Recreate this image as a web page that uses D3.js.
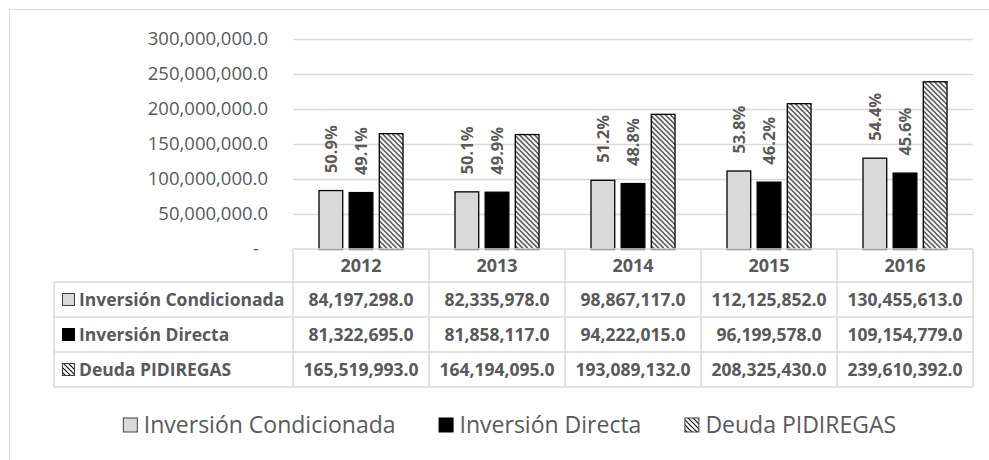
<!DOCTYPE html>
<html>
<head>
<meta charset="utf-8">
<script src="https://cdn.jsdelivr.net/npm/d3@7/dist/d3.min.js"></script>
<style>
  body { margin: 0; background: #fff; }
  text { font-family: "Open Sans", sans-serif; fill: #595959; }
</style>
</head>
<body>
<script>
var years = ["2012", "2013", "2014", "2015", "2016"];
var seriesNames = ["Inversión Condicionada", "Inversión Directa", "Deuda PIDIREGAS"];
var condicionada = [84197298.0, 82335978.0, 98867117.0, 112125852.0, 130455613.0];
var directa = [81322695.0, 81858117.0, 94222015.0, 96199578.0, 109154779.0];
var pidiregas = [165519993.0, 164194095.0, 193089132.0, 208325430.0, 239610392.0];
var pctCondicionada = ["50.9%", "50.1%", "51.2%", "53.8%", "54.4%"];
var pctDirecta = ["49.1%", "49.9%", "48.8%", "46.2%", "45.6%"];
var yMax = 300000000;

var width = 989, height = 460;
var values = [condicionada, directa, pidiregas];
var labels = [pctCondicionada, pctDirecta, null];
var fills = ["#d9d9d9", "#000", "url(#hatch)"];

var svg = d3.select("body").append("svg")
    .attr("width", width)
    .attr("height", height);

var defs = svg.append("defs");
var pat = defs.append("pattern")
    .attr("id", "hatch")
    .attr("patternUnits", "userSpaceOnUse")
    .attr("width", 5)
    .attr("height", 5);
pat.append("rect").attr("width", 5).attr("height", 5).attr("fill", "#fff");
pat.append("path")
    .attr("d", "M0,0L5,5M-1,4L1,6M4,-1L6,1")
    .attr("stroke", "#111")
    .attr("stroke-width", 1.2);

// chart frame
svg.append("rect")
    .attr("x", 9.5).attr("y", 9.5)
    .attr("width", 1001).attr("height", 470)
    .attr("fill", "none")
    .attr("stroke", "#d9d9d9");

var x0 = d3.scaleBand()
    .domain(years)
    .range([293, 973])
    .paddingInner(0.375)
    .paddingOuter(0.1875);

var x1 = d3.scaleBand()
    .domain(d3.range(3))
    .range([0, x0.bandwidth()])
    .paddingInner(0.18);

var y = d3.scaleLinear()
    .domain([0, yMax])
    .range([249, 39]);

var fmt = d3.format(",.1f");

// gridlines + tick labels
var ticks = y.ticks(6);
svg.append("g").selectAll("line")
    .data(ticks.filter((d) => d > 0))
  .enter().append("line")
    .attr("x1", 293).attr("x2", 973)
    .attr("y1", (d) => Math.round(y(d)) + 0.5)
    .attr("y2", (d) => Math.round(y(d)) + 0.5)
    .attr("stroke", "#d9d9d9")
    .attr("stroke-width", 1.5);

svg.append("g").selectAll("text")
    .data(ticks)
  .enter().append("text")
    .attr("x", (d) => d === 0 ? 259 : 268)
    .attr("y", (d) => y(d))
    .attr("dy", "0.35em")
    .attr("text-anchor", "end")
    .style("font-size", "18.5px")
    .text((d) => d === 0 ? "-" : fmt(d));

// bars
var groups = svg.append("g").selectAll("g")
    .data(years)
  .enter().append("g")
    .attr("transform", (d) => `translate(${x0(d)},0)`);

groups.selectAll("rect")
    .data((d, i) => values.map((v, s) => ({s: s, v: v[i]})))
  .enter().append("rect")
    .attr("x", (d) => x1(d.s) + 0.5)
    .attr("y", (d) => y(d.v) + 0.5)
    .attr("width", x1.bandwidth() - 1)
    .attr("height", (d) => y(0) - y(d.v))
    .attr("fill", (d) => fills[d.s])
    .attr("stroke", "#000")
    .attr("stroke-width", 1.3);

// rotated percentage labels
groups.selectAll("text.pct")
    .data((d, i) => [0, 1].map((s) => ({s: s, v: values[s][i], t: labels[s][i]})))
  .enter().append("text")
    .attr("class", "pct")
    .attr("transform", (d) => `translate(${x1(d.s) + x1.bandwidth() / 2},${y(d.v) - 17}) rotate(-90)`)
    .attr("dy", "0.35em")
    .style("font-size", "16.5px")
    .style("font-weight", "bold")
    .text((d) => d.t);

// data table
var tableLeft = 54;
var headTop = y(0), headH = 33, rowH = 35;
var colLeft = (d) => x0(d) - (x0.step() - x0.bandwidth()) / 2;
var tableRight = 973;
var grid = svg.append("g")
    .attr("stroke", "#d9d9d9")
    .attr("stroke-width", 1.5);

// horizontal lines
grid.append("line").attr("x1", 293).attr("x2", tableRight)
    .attr("y1", headTop).attr("y2", headTop);
d3.range(4).forEach((r) => {
  var yy = headTop + headH + r * rowH;
  grid.append("line").attr("x1", tableLeft).attr("x2", tableRight)
      .attr("y1", yy).attr("y2", yy);
});
// vertical lines
var tableBottom = headTop + headH + 3 * rowH;
grid.append("line").attr("x1", tableLeft).attr("x2", tableLeft)
    .attr("y1", headTop + headH).attr("y2", tableBottom);
years.forEach((yr) => {
  grid.append("line").attr("x1", colLeft(yr)).attr("x2", colLeft(yr))
      .attr("y1", headTop).attr("y2", tableBottom);
});
grid.append("line").attr("x1", tableRight).attr("x2", tableRight)
    .attr("y1", headTop).attr("y2", tableBottom);

// header
svg.append("g").selectAll("text")
    .data(years)
  .enter().append("text")
    .attr("x", (d) => x0(d) + x0.bandwidth() / 2)
    .attr("y", headTop + headH / 2)
    .attr("dy", "0.35em")
    .attr("text-anchor", "middle")
    .style("font-size", "18px")
    .style("font-weight", "bold")
    .text((d) => d);

function key(g, s, x, yc, size) {
  g.append("rect")
      .attr("x", x + 0.5).attr("y", yc - size / 2 + 0.5)
      .attr("width", size - 1).attr("height", size - 1)
      .attr("fill", fills[s])
      .attr("stroke", s === 1 ? "#000" : "#404040")
      .attr("stroke-width", 1);
}

var rows = svg.append("g");
seriesNames.forEach((name, s) => {
  var yc = headTop + headH + s * rowH + rowH / 2;
  key(rows, s, 62, yc, 13);
  rows.append("text")
      .attr("x", 79).attr("y", yc)
      .attr("dy", "0.35em")
      .style("font-size", "17.5px")
      .style("font-weight", "bold")
      .text(name);
  years.forEach((yr, i) => {
    rows.append("text")
        .attr("x", x0(yr) + x0.bandwidth() / 2)
        .attr("y", yc)
        .attr("dy", "0.35em")
        .attr("text-anchor", "middle")
        .style("font-size", "17.5px")
        .style("font-weight", "bold")
        .text(fmt(values[s][i]));
  });
});

// legend
var legend = svg.append("g");
var items = seriesNames.map((name, s) => {
  var t = legend.append("text")
      .attr("y", 425)
      .attr("dy", "0.35em")
      .style("font-size", "23px")
      .text(name);
  return {s: s, t: t, w: t.node().getComputedTextLength()};
});
var keySize = 15, keyGap = 6, itemGap = 43;
var total = d3.sum(items, (d) => keySize + keyGap + d.w) + itemGap * (items.length - 1);
var lx = 509.5 - total / 2;
items.forEach((d) => {
  key(legend, d.s, lx, 425, keySize);
  d.t.attr("x", lx + keySize + keyGap);
  lx += keySize + keyGap + d.w + itemGap;
});
</script>
</body>
</html>
